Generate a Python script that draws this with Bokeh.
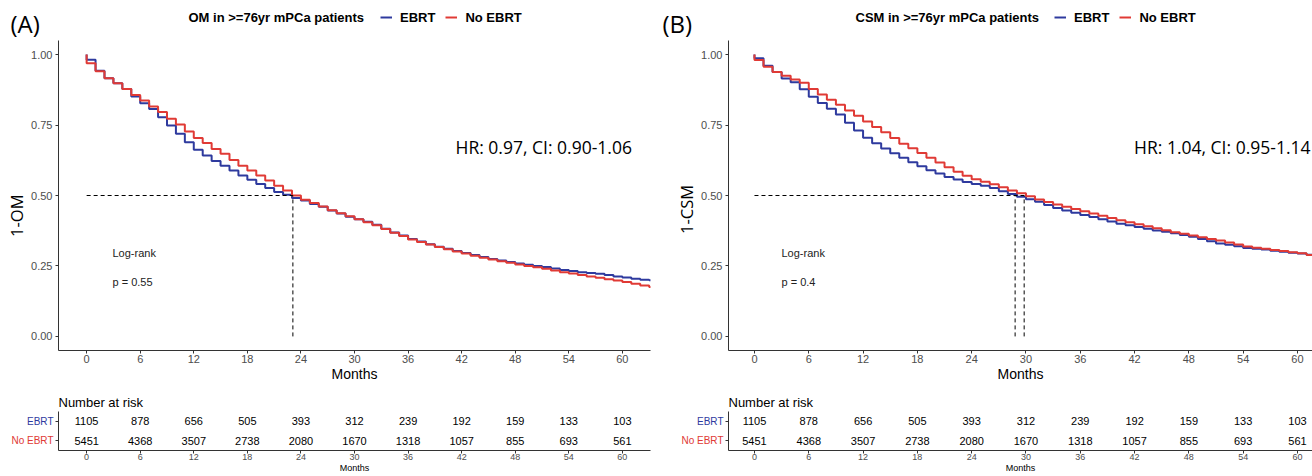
from bokeh.plotting import figure
from bokeh.layouts import row, column
from bokeh.models import FixedTicker, Range1d, PrintfTickFormatter, Legend, LegendItem
from bokeh.core.properties import value
from bokeh.embed import file_html
from bokeh.resources import INLINE

# ---------------- data ----------------
months = list(range(0, 64))

om_ebrt = [0.982, 0.943, 0.916, 0.898, 0.878, 0.851, 0.827, 0.807, 0.778, 0.748,
           0.719, 0.689, 0.662, 0.642, 0.622, 0.606, 0.589, 0.571, 0.556, 0.541,
           0.527, 0.512, 0.503, 0.491, 0.482, 0.470, 0.460, 0.447, 0.436, 0.425,
           0.416, 0.407, 0.396, 0.382, 0.369, 0.358, 0.346, 0.337, 0.327, 0.318,
           0.311, 0.303, 0.296, 0.289, 0.282, 0.275, 0.269, 0.264, 0.259, 0.254,
           0.250, 0.246, 0.241, 0.236, 0.232, 0.228, 0.225, 0.222, 0.218, 0.213,
           0.209, 0.205, 0.201, 0.199]
om_noebrt = [0.969, 0.941, 0.916, 0.898, 0.878, 0.857, 0.837, 0.816, 0.796, 0.772,
             0.752, 0.727, 0.704, 0.686, 0.665, 0.648, 0.626, 0.606, 0.589, 0.571,
             0.553, 0.535, 0.518, 0.500, 0.485, 0.473, 0.461, 0.448, 0.437, 0.426,
             0.416, 0.405, 0.394, 0.381, 0.368, 0.356, 0.344, 0.335, 0.326, 0.317,
             0.309, 0.301, 0.294, 0.286, 0.279, 0.273, 0.267, 0.261, 0.255, 0.250,
             0.245, 0.240, 0.234, 0.228, 0.223, 0.218, 0.213, 0.208, 0.203, 0.198,
             0.193, 0.187, 0.181, 0.175]
csm_ebrt = [0.987, 0.960, 0.938, 0.915, 0.902, 0.877, 0.850, 0.828, 0.808, 0.787,
            0.758, 0.731, 0.705, 0.685, 0.667, 0.650, 0.634, 0.618, 0.604, 0.590,
            0.578, 0.566, 0.557, 0.548, 0.541, 0.535, 0.527, 0.515, 0.505, 0.496,
            0.487, 0.478, 0.466, 0.456, 0.447, 0.439, 0.431, 0.424, 0.416, 0.408,
            0.400, 0.394, 0.388, 0.382, 0.376, 0.371, 0.366, 0.360, 0.354, 0.346,
            0.338, 0.330, 0.325, 0.320, 0.314, 0.311, 0.308, 0.304, 0.300, 0.297,
            0.294, 0.290, 0.287, 0.284]
csm_noebrt = [0.981, 0.957, 0.938, 0.925, 0.912, 0.900, 0.878, 0.858, 0.840, 0.822,
              0.802, 0.783, 0.763, 0.743, 0.724, 0.704, 0.684, 0.668, 0.651, 0.634,
              0.617, 0.600, 0.584, 0.570, 0.558, 0.549, 0.540, 0.529, 0.518, 0.508,
              0.497, 0.486, 0.477, 0.468, 0.460, 0.452, 0.444, 0.436, 0.428, 0.420,
              0.412, 0.405, 0.398, 0.391, 0.384, 0.377, 0.370, 0.364, 0.358, 0.352,
              0.346, 0.340, 0.333, 0.326, 0.319, 0.315, 0.311, 0.307, 0.303, 0.299,
              0.295, 0.289, 0.285, 0.281]

median_om = [23.1, 23.1]     # EBRT, No EBRT
median_csm = [28.8, 29.8]    # EBRT, No EBRT

risk_times = [0, 6, 12, 18, 24, 30, 36, 42, 48, 54, 60]
risk_ebrt = [1105, 878, 656, 505, 393, 312, 239, 192, 159, 133, 103]
risk_noebrt = [5451, 4368, 3507, 2738, 2080, 1670, 1318, 1057, 855, 693, 561]

x_ticks = [0, 6, 12, 18, 24, 30, 36, 42, 48, 54, 60]
y_ticks = [0.0, 0.25, 0.5, 0.75, 1.0]
groups = ["EBRT", "No EBRT"]

BLUE = "#2E3A9E"
RED = "#E03A35"
AX = "#333333"
TICKLAB = "#4D4D4D"
GG = "Liberation Sans"
PPT = "Open Sans"

HEAD_H, MID_H, RISK_H = 40, 345, 91
FT, FB = 40, 350          # page y of main frame
RFT, RFB = 411, 450       # page y of risk frame
YAX_W = 31                # room kept for the main y axis (ticks + labels)
NAN = float("nan")


def bare(w, h, xr, yr, **kw):
    f = figure(width=w, height=h, x_range=xr, y_range=yr, output_backend="svg",
               toolbar_location=None, x_axis_type=None, y_axis_type=None,
               min_border_left=0, min_border_right=0, **kw)
    f.xgrid.visible = False
    f.ygrid.visible = False
    f.outline_line_color = None
    return f


def style_axis(ax, size):
    ax.axis_line_color = AX
    ax.axis_line_width = 1
    ax.major_tick_line_color = AX
    ax.major_tick_in = 0
    ax.major_tick_out = 3
    ax.minor_tick_line_color = None
    ax.major_label_text_font = GG
    ax.major_label_text_color = TICKLAB
    ax.major_label_text_font_size = size


def make_panel(cfg):
    L, W = cfg["left"], cfg["width"]
    FL, FR = cfg["frame_left"], cfg["frame_right"]

    # ---------- header: panel letter, title, legend ----------
    h = bare(W, HEAD_H, Range1d(L, L + W), Range1d(HEAD_H, 0),
             min_border_top=0, min_border_bottom=0)
    h.text(x=[cfg["letter_x"]], y=[23], text=[cfg["letter"]], text_font=value(PPT),
           text_font_size="24px", text_color="black", text_baseline="middle", text_align="left")
    h.text(x=[cfg["title_x"]], y=[17], text=[cfg["title"]], text_font=value(GG),
           text_font_style="bold", text_font_size="13px", text_color="black",
           text_baseline="middle", text_align="left")
    keys = [h.line(x=[NAN], y=[NAN], line_color=c, line_width=2) for c in (BLUE, RED)]
    leg = Legend(items=[LegendItem(label=g, renderers=[k]) for g, k in zip(groups, keys)],
                 orientation="horizontal", location=(cfg["legend_x"] - L, HEAD_H - 27),
                 padding=0, margin=0, spacing=10, label_standoff=8, glyph_width=12,
                 glyph_height=20, label_height=20, border_line_color=None,
                 background_fill_alpha=0, label_text_font=GG, label_text_font_style="bold",
                 label_text_font_size="13px", label_text_color="black")
    h.add_layout(leg, "center")

    # ---------- y label strip + main KM plot ----------
    yl_w = FL - L - YAX_W
    yl = bare(yl_w, MID_H, Range1d(L, L + yl_w), Range1d(HEAD_H + MID_H, HEAD_H),
              min_border_top=0, min_border_bottom=0)
    yl.text(x=[cfg["ylab_x"]], y=[cfg["ylab_y"]], text=[cfg["ylab"]], text_font=value(PPT),
            text_font_size="16.5px", text_color="black", angle=90, angle_units="deg",
            text_align="center", text_baseline="middle")

    mw = W - yl_w
    ml = L + yl_w
    xs, xe = cfg["xstart"], cfg["xend"]
    p = figure(width=mw, height=MID_H, x_range=Range1d(xs, xe), y_range=Range1d(-0.05, 1.05),
               output_backend="svg", toolbar_location=None,
               min_border_left=FL - ml, min_border_right=ml + mw - FR,
               min_border_top=FT - HEAD_H, min_border_bottom=HEAD_H + MID_H - FB)
    p.xgrid.visible = False
    p.ygrid.visible = False
    p.outline_line_color = None
    style_axis(p.xaxis[0], "11px")
    style_axis(p.yaxis[0], "11px")
    p.xaxis.ticker = FixedTicker(ticks=x_ticks)
    p.yaxis.ticker = FixedTicker(ticks=y_ticks)
    p.yaxis.formatter = PrintfTickFormatter(format="%.2f")
    p.yaxis.major_label_standoff = 3
    p.xaxis.major_label_standoff = 1
    p.xaxis.axis_label = "Months"
    p.xaxis.axis_label_text_font = GG
    p.xaxis.axis_label_text_font_style = "normal"
    p.xaxis.axis_label_text_font_size = "14px"
    p.xaxis.axis_label_text_color = "black"
    p.xaxis.axis_label_standoff = 0

    xend = months[-1] + 0.2
    for vals, col in ((cfg["ebrt"], BLUE), (cfg["noebrt"], RED)):
        p.step([0] + months + [xend], [1.0] + vals + [vals[-1]], mode="after",
               line_color=col, line_width=2)

    med = sorted(set(cfg["median"]))
    p.line([0, max(med)], [0.5, 0.5], line_color="black", line_width=1, line_dash="4 3")
    p.segment(x0=med, y0=[0] * len(med), x1=med, y1=[0.5] * len(med),
              line_color="black", line_width=1, line_dash="4 3")

    def X(px):
        return xs + (px - FL) * (xe - xs) / (FR - FL)

    def Y(py):
        return 1.05 - (py - FT) * 1.1 / (FB - FT)

    p.text(x=[X(cfg["hr_x"])], y=[Y(146)], text=[cfg["hr"]], text_font=value(PPT),
           text_font_size="17.5px", text_color="black", text_baseline="middle",
           text_align=cfg["hr_align"])
    p.text(x=[X(cfg["lr_x"])] * 2, y=[Y(252), Y(281)], text=["Log-rank", cfg["pval"]],
           text_font=value(GG), text_font_size="11px", text_color="#222222",
           text_baseline="middle", text_align="left")

    # ---------- risk table ----------
    rl_w = FL - 3 - L
    rtop = HEAD_H + MID_H
    yr = Range1d(0, 2)
    rl = bare(rl_w, RISK_H, Range1d(L, L + rl_w), yr,
              min_border_top=RFT - rtop, min_border_bottom=rtop + RISK_H - RFB)
    rl.text(x=[FL - 5] * 2, y=[1.5, 0.5], text=groups, text_font=value(GG),
            text_font_size="10px", text_color=[BLUE, RED], text_align="right",
            text_baseline="middle")

    rw = W - rl_w
    r = figure(width=rw, height=RISK_H, x_range=p.x_range, y_range=yr,
               output_backend="svg", toolbar_location=None,
               min_border_left=3, min_border_right=L + W - FR,
               min_border_top=RFT - rtop, min_border_bottom=rtop + RISK_H - RFB)
    r.xgrid.visible = False
    r.ygrid.visible = False
    r.outline_line_color = None
    style_axis(r.xaxis[0], "9px")
    style_axis(r.yaxis[0], "9px")
    r.xaxis.ticker = FixedTicker(ticks=x_ticks)
    r.xaxis.major_label_standoff = 0
    r.xaxis.axis_label = "Months"
    r.xaxis.axis_label_text_font = GG
    r.xaxis.axis_label_text_font_style = "normal"
    r.xaxis.axis_label_text_font_size = "9px"
    r.xaxis.axis_label_text_color = "black"
    r.xaxis.axis_label_standoff = 0
    r.yaxis.ticker = FixedTicker(ticks=[0.5, 1.5])
    r.yaxis.major_label_overrides = {0.5: "", 1.5: ""}
    r.yaxis.major_label_standoff = 0
    r.title.text = "Number at risk"
    r.title.align = "left"
    r.title.text_font = GG
    r.title.text_font_style = "normal"
    r.title.text_font_size = "13px"
    r.title.text_color = "black"
    r.title.standoff = 4

    row_y = {"EBRT": 1.5, "No EBRT": 0.5}
    tx, ty, tt = [], [], []
    for g, vals in (("EBRT", risk_ebrt), ("No EBRT", risk_noebrt)):
        for t, v in zip(risk_times, vals):
            tx.append(t)
            ty.append(row_y[g])
            tt.append(str(v))
    r.text(x=tx, y=ty, text=tt, text_align="center", text_baseline="middle",
           text_font=value(GG), text_font_size="11px", text_color="black")

    return column(h, row(yl, p), row(rl, r))


cfgA = dict(left=0, width=655, frame_left=58, frame_right=650, xstart=-3.15, xend=63.15,
            ebrt=om_ebrt, noebrt=om_noebrt, median=median_om,
            letter="(A)", letter_x=10, title="OM in >=76yr mPCa patients", title_x=188,
            legend_x=380, ylab="1-OM", ylab_x=16, ylab_y=235,
            hr="HR: 0.97, CI: 0.90-1.06", hr_x=455, hr_align="left", lr_x=112, pval="p = 0.55")
cfgB = dict(left=655, width=657, frame_left=728, frame_right=1312, xstart=-2.87,
            xend=-2.87 + 584 / 9.05,
            ebrt=csm_ebrt, noebrt=csm_noebrt, median=median_csm,
            letter="(B)", letter_x=662, title="CSM in >=76yr mPCa patients", title_x=855,
            legend_x=1054, ylab="1-CSM", ylab_x=685.5, ylab_y=228,
            hr="HR: 1.04, CI: 0.95-1.14", hr_x=1310, hr_align="right", lr_x=781, pval="p = 0.4")

layout = row(make_panel(cfgA), make_panel(cfgB))
open("out.html", "w").write(file_html(layout, INLINE))
